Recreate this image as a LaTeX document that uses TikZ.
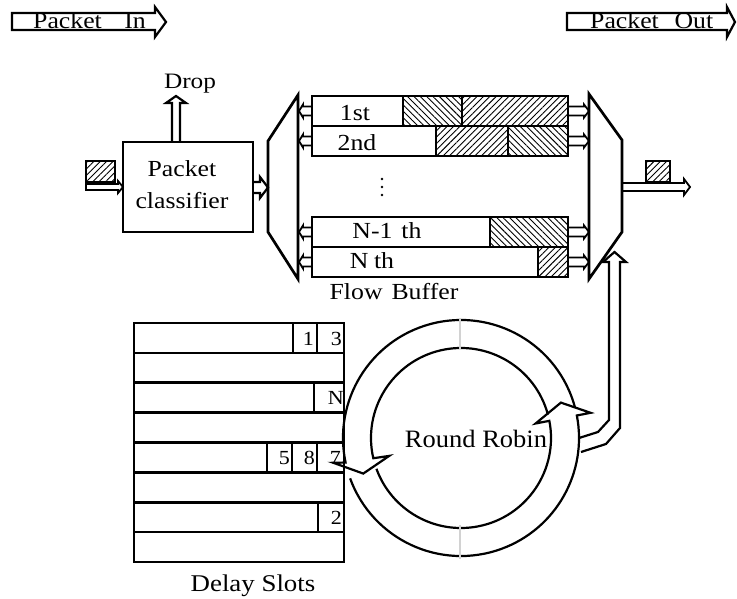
\documentclass[tikz,border=0pt]{standalone}
\usepackage{fontspec}
\setmainfont{Liberation Serif}
\usetikzlibrary{patterns.meta}
\newcommand{\stt}[2][1.12]{\scalebox{#1}[1]{#2}}
\begin{document}
\begin{tikzpicture}[x=1pt,y=1pt,line join=miter,
  ln/.style={draw=black,line width=2.7pt},
  lnm/.style={draw=black,line width=2.2pt},
  lns/.style={draw=black,line width=1.8pt},
  hatchA/.style={pattern={Lines[angle=45,distance=4.5pt,line width=0.9pt]}},
  hatchB/.style={pattern={Lines[angle=-45,distance=4.5pt,line width=0.9pt]}},
  txt/.style={inner sep=0pt,font=\fontsize{23}{27}\selectfont},
  dig/.style={inner sep=0pt,font=\fontsize{20}{24}\selectfont,anchor=base east}]
\useasboundingbox (0,0) rectangle (737,-599);

% ---------- top legend arrows ----------
\draw[lnm] (12,-13)--(155,-13)--(155,-7)--(166,-22)--(155,-37)--(155,-30)--(12,-30)--cycle;
\node[txt,anchor=base west] (pin) at (33,-29) {\stt{Packet\hspace{20pt}In}};
\draw[lnm] (567,-13)--(727,-13)--(727,-7)--(735,-22)--(727,-37)--(727,-30)--(567,-30)--cycle;
\node[txt,anchor=base west] (pout) at (590,-29) {\stt{Packet\hspace{14pt}Out}};

% ---------- packet classifier ----------
\draw[ln] (123,-142) rectangle (253,-232);
\node[txt,anchor=base] (cls1) at (182,-177) {\stt{Packet}};
\node[txt,anchor=base] (cls2) at (182,-208) {\stt{classifier}};
% drop arrow
\draw[lnm] (172,-142)--(172,-103)--(166,-103)--(176,-96)--(186,-103)--(180,-103)--(180,-142);
\node[txt,anchor=base,font=\fontsize{22}{26}\selectfont] (drop) at (190,-89) {\stt[1.15]{Drop}};
% input packet and arrow
\draw[ln,hatchA] (86,-161) rectangle (115,-182);
\draw[lns] (86,-184)--(118,-184)--(118,-181)--(123,-187)--(118,-193)--(118,-190)--(86,-190)--cycle;
% classifier -> demux
\draw[lnm] (253,-182)--(260,-182)--(260,-177)--(268,-187.5)--(260,-198)--(260,-193)--(253,-193);

% ---------- demux / mux ----------
\draw[ln] (298,-95)--(268,-141)--(268,-232)--(298,-279)--cycle;
\draw[ln] (589,-94)--(622,-140)--(622,-232)--(589,-279)--cycle;

% ---------- flow buffer rows ----------
\draw[ln] (312,-96) rectangle (568,-126);
\draw[ln] (312,-126) rectangle (568,-156);
\draw[ln] (312,-217) rectangle (568,-247);
\draw[ln] (312,-247) rectangle (568,-277);
\draw[ln,hatchB] (403,-96) rectangle (462,-126);
\draw[ln,hatchA] (462,-96) rectangle (568,-126);
\draw[ln,hatchA] (436,-126) rectangle (508,-156);
\draw[ln,hatchB] (508,-126) rectangle (568,-156);
\draw[ln,hatchB] (490,-217) rectangle (568,-247);
\draw[ln,hatchA] (538,-247) rectangle (568,-277);

\node[txt,anchor=base] (r1) at (355,-121) {\stt{1st}};
\node[txt,anchor=base] (r2) at (357,-151) {\stt{2nd}};
\node[txt,anchor=base] (r3) at (387,-239) {\stt{N-1\hspace{8pt}th}};
\node[txt,anchor=base] (r4) at (372,-268) {\stt{N\hspace{5pt}th}};
\fill (382,-179) circle (1.4) (382,-187) circle (1.4) (382,-195) circle (1.4);

% row connectors
\foreach \c in {111,141,232,262}{
  \draw[lns] (312,-\c+4.5)--(303,-\c+4.5)--(303,-\c+6.5)--(299,-\c)--(303,-\c-6.5)--(303,-\c-4.5)--(312,-\c-4.5);
  \draw[lns] (568,-\c+4.5)--(584,-\c+4.5)--(584,-\c+6.5)--(589,-\c)--(584,-\c-6.5)--(584,-\c-4.5)--(568,-\c-4.5);
}

% output arrow and packet
\draw[lns] (622,-183)--(684,-183)--(684,-179)--(690,-187)--(684,-195)--(684,-191)--(622,-191);
\draw[ln,hatchA] (646,-161) rectangle (670,-182);

\node[txt,anchor=base] (fb) at (394,-299) {\stt{Flow\hspace{8pt}Buffer}};

% ---------- delay slots ----------
\foreach \i in {0,...,7}{
  \draw[ln] (134,{-323-29.875*\i}) rectangle (344,{-323-29.875*(\i+1)});
}
\draw[ln] (293,-323)--(293,-352.9) (317,-323)--(317,-352.9);
\draw[ln] (314,-382.75)--(314,-412.6);
\draw[ln] (267,-442.5)--(267,-472.4) (292,-442.5)--(292,-472.4) (317,-442.5)--(317,-472.4);
\draw[ln] (318,-502.25)--(318,-532.1);
\node[dig] (d1) at (314,-345) {\stt[1.1]{1}};
\node[dig] (d3) at (342,-345) {\stt[1.1]{3}};
\node[dig] (dN) at (344,-404) {\stt[1.1]{N}};
\node[dig] (d5) at (290,-464.5) {\stt[1.1]{5}};
\node[dig] (d8) at (315,-464.5) {\stt[1.1]{8}};
\node[dig] (d7) at (341,-464.5) {\stt[1.1]{7}};
\node[dig] (d2) at (342,-524) {\stt[1.1]{2}};
\node[txt,anchor=base,font=\fontsize{24}{28}\selectfont] (ds) at (253,-591) {\stt{Delay Slots}};

% ---------- round robin ring ----------
\begin{scope}[shift={(461,-438)}]
\draw[lnm] (200:118) arc[start angle=200,end angle=371,radius=118] -- (11:132) -- (19.5:106) -- (11:76) -- (11:90) arc[start angle=371,end angle=200,radius=90];
\draw[lnm] (15:118) arc[start angle=15,end angle=192,radius=118] -- (191:130) -- (200:104) -- (194:74) -- (193:90) arc[start angle=193,end angle=15,radius=90];
\end{scope}
\draw[gray!35,line width=1.4pt] (460,-318)--(460,-349) (460,-525)--(460,-559);
\node[txt,anchor=base,font=\fontsize{25}{29}\selectfont] (rr) at (476,-447) {\stt[1.06]{Round Robin}};

% ring -> mux connector
\draw[lnm] (579,-438)--(598,-432)--(609,-420)--(609,-262)--(603,-262)--(614.5,-252)--(626,-262)--(620,-262)--(620,-428)--(606,-444)--(581,-452);
\end{tikzpicture}
\end{document}
